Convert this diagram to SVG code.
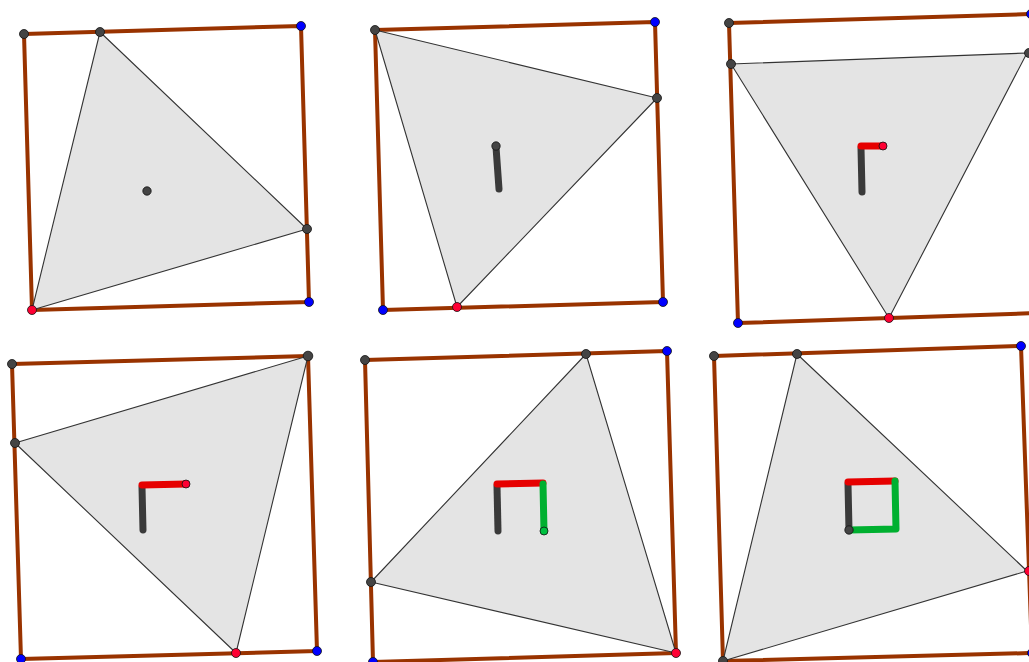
<svg xmlns="http://www.w3.org/2000/svg" width="1029" height="662" viewBox="0 0 1029 662">
<style>
.sq{fill:none;stroke:#993300;stroke-width:4;stroke-linejoin:round}
.tri{fill:#e4e4e4;stroke:#333;stroke-width:1.1;stroke-linejoin:round}
.pt{stroke:#111;stroke-width:0.8}
.d{fill:#444}
.b{fill:#0000ff}
.r{fill:#ff0033}
.g{fill:#00c040}
.gk{stroke:#3a3a3a;stroke-width:7;stroke-linecap:round;fill:none}
.gr{stroke:#e60000;stroke-width:7;stroke-linecap:round;fill:none}
.gg{stroke:#00b030;stroke-width:7;stroke-linecap:round;stroke-linejoin:round;fill:none}
</style>
<rect width="1029" height="662" fill="#fff"/>

<g id="panel1">
<polygon class="sq" points="24,34 301,26 309,302 32,310"/>
<polygon class="tri" points="100,32 307,229 32,310"/>
<circle class="pt d" cx="147" cy="191" r="4.2"/>
<circle class="pt d" cx="24" cy="34" r="4.5"/>
<circle class="pt b" cx="301" cy="26" r="4.5"/>
<circle class="pt b" cx="309" cy="302" r="4.5"/>
<circle class="pt r" cx="32" cy="310" r="4.5"/>
<circle class="pt d" cx="100" cy="32" r="4.5"/>
<circle class="pt d" cx="307" cy="229" r="4.5"/>
</g>

<g id="panel2">
<polygon class="sq" points="375,30 655,22 663,302 383,310"/>
<polygon class="tri" points="375,30 657,98 457,307"/>
<path class="gk" d="M496,147 L499,189"/>
<circle class="pt d" cx="496" cy="146" r="4.2"/>
<circle class="pt d" cx="375" cy="30" r="4.5"/>
<circle class="pt b" cx="655" cy="22" r="4.5"/>
<circle class="pt b" cx="663" cy="302" r="4.5"/>
<circle class="pt b" cx="383" cy="310" r="4.5"/>
<circle class="pt d" cx="657" cy="98" r="4.5"/>
<circle class="pt r" cx="457" cy="307" r="4.5"/>
</g>

<g id="panel3">
<polygon class="sq" points="729,23 1031,14 1040,313 738,323"/>
<polygon class="tri" points="731,64 1027,53 889,318"/>
<path class="gk" d="M861,148 L862,192"/>
<path class="gr" d="M861,146 L883,146"/>
<circle class="pt r" cx="883" cy="146" r="4"/>
<circle class="pt d" cx="729" cy="23" r="4.5"/>
<circle class="pt b" cx="1031" cy="14" r="4.5"/>
<circle class="pt b" cx="738" cy="323" r="4.5"/>
<circle class="pt d" cx="731" cy="64" r="4.5"/>
<circle class="pt d" cx="1029" cy="53" r="4.5"/>
<circle class="pt r" cx="889" cy="318" r="4.5"/>
</g>

<g id="panel4">
<polygon class="sq" points="12,364 308,356 317,651 21,659"/>
<polygon class="tri" points="308,356 15,443 236,653"/>
<path class="gk" d="M142,487 L143,530"/>
<path class="gr" d="M142,485 L186,484"/>
<circle class="pt r" cx="186" cy="484" r="4"/>
<circle class="pt d" cx="12" cy="364" r="4.5"/>
<circle class="pt d" cx="308" cy="356" r="4.8"/>
<circle class="pt b" cx="317" cy="651" r="4.5"/>
<circle class="pt b" cx="21" cy="659" r="4.5"/>
<circle class="pt d" cx="15" cy="443" r="4.5"/>
<circle class="pt r" cx="236" cy="653" r="4.5"/>
</g>

<g id="panel5">
<polygon class="sq" points="365,360 667,351 676,653 373,662"/>
<polygon class="tri" points="586,354 371,582 676,653"/>
<path class="gk" d="M497,486 L498,531"/>
<path class="gr" d="M497,484 L543,483"/>
<path class="gg" d="M543,484 L544,531"/>
<circle class="pt g" cx="544" cy="531" r="4"/>
<circle class="pt d" cx="365" cy="360" r="4.5"/>
<circle class="pt b" cx="667" cy="351" r="4.5"/>
<circle class="pt b" cx="373" cy="662" r="4.5"/>
<circle class="pt d" cx="586" cy="354" r="4.5"/>
<circle class="pt d" cx="371" cy="582" r="4.5"/>
<circle class="pt r" cx="676" cy="653" r="4.5"/>
</g>

<g id="panel6">
<polygon class="sq" points="714,356 1021,346 1032,653 723,661"/>
<polygon class="tri" points="797,354 1027,571 723,661"/>
<path class="gk" d="M848,484 L849,530"/>
<path class="gr" d="M848,482 L895,481"/>
<path class="gg" d="M895,481 L896,529 L849,530"/>
<circle class="pt d" cx="849" cy="530" r="4.2"/>
<circle class="pt d" cx="714" cy="356" r="4.5"/>
<circle class="pt b" cx="1021" cy="346" r="4.5"/>
<circle class="pt b" cx="1032" cy="653" r="4.5"/>
<circle class="pt d" cx="723" cy="661" r="4.5"/>
<circle class="pt d" cx="797" cy="354" r="4.5"/>
<circle class="pt r" cx="1029" cy="571" r="4.5"/>
</g>
</svg>
